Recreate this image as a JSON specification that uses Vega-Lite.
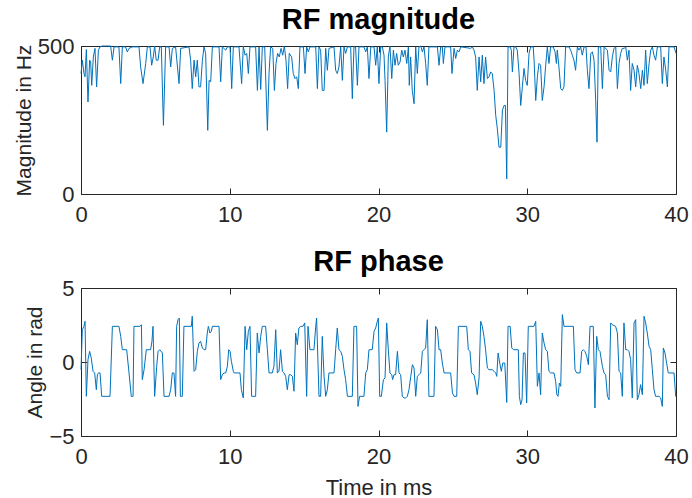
{
  "$schema": "https://vega.github.io/schema/vega-lite/v6.json",
  "padding": {"left": 12, "top": 5, "right": 0, "bottom": 0},
  "background": "white",
  "spacing": 21,
  "config": {
    "font": "Liberation Sans",
    "view": {"stroke": "#262626", "strokeWidth": 1},
    "axis": {"grid": false, "domain": false, "tickColor": "#262626", "tickSize": -6, "labelColor": "#262626", "labelFontSize": 22, "titleFontSize": 22, "titleColor": "#262626", "titleFontWeight": "normal", "labelFont": "Liberation Sans", "titleFont": "Liberation Sans", "labelFlush": false},
    "axisY": {"titleFontSize": 21},
    "title": {"fontSize": 29, "fontWeight": "bold", "color": "#000000", "font": "Liberation Sans"}
  },
  "datasets": {
    "mag": [
      {"t":0,"v":407},{"t":0.09,"v":452},{"t":0.2,"v":407},{"t":0.27,"v":396},{"t":0.36,"v":488},{"t":0.47,"v":311},{"t":0.58,"v":452},{"t":0.65,"v":446},{"t":0.72,"v":367},{"t":0.83,"v":463},{"t":0.94,"v":492},{"t":1.05,"v":362},{"t":1.17,"v":486},{"t":1.28,"v":497},{"t":1.43,"v":500},{"t":1.66,"v":500},{"t":1.99,"v":500},{"t":2.11,"v":452},{"t":2.22,"v":497},{"t":2.55,"v":497},{"t":2.67,"v":373},{"t":2.78,"v":497},{"t":3.0,"v":497},{"t":3.11,"v":480},{"t":3.23,"v":492},{"t":3.45,"v":497},{"t":3.9,"v":497},{"t":4.01,"v":429},{"t":4.17,"v":373},{"t":4.35,"v":441},{"t":4.46,"v":497},{"t":4.64,"v":497},{"t":4.75,"v":435},{"t":4.86,"v":463},{"t":4.95,"v":500},{"t":5.06,"v":452},{"t":5.18,"v":452},{"t":5.29,"v":497},{"t":5.4,"v":497},{"t":5.54,"v":232},{"t":5.69,"v":497},{"t":5.92,"v":497},{"t":6.03,"v":429},{"t":6.14,"v":492},{"t":6.36,"v":497},{"t":6.59,"v":373},{"t":6.7,"v":492},{"t":7.26,"v":497},{"t":7.37,"v":452},{"t":7.48,"v":356},{"t":7.6,"v":452},{"t":7.71,"v":396},{"t":7.82,"v":452},{"t":7.93,"v":362},{"t":8.04,"v":362},{"t":8.16,"v":452},{"t":8.27,"v":497},{"t":8.38,"v":475},{"t":8.52,"v":215},{"t":8.61,"v":384},{"t":8.72,"v":379},{"t":8.83,"v":497},{"t":9.28,"v":497},{"t":9.39,"v":379},{"t":9.5,"v":497},{"t":9.73,"v":486},{"t":9.84,"v":497},{"t":10.02,"v":497},{"t":10.13,"v":356},{"t":10.24,"v":497},{"t":10.35,"v":497},
      {"t":10.62,"v":497},{"t":10.8,"v":373},{"t":10.91,"v":500},{"t":11.03,"v":469},{"t":11.14,"v":475},{"t":11.25,"v":407},{"t":11.36,"v":497},{"t":11.74,"v":497},{"t":11.86,"v":350},{"t":11.97,"v":497},{"t":12.08,"v":353},{"t":12.19,"v":497},{"t":12.35,"v":497},{"t":12.53,"v":215},{"t":12.64,"v":407},{"t":12.75,"v":497},{"t":12.89,"v":492},{"t":13.0,"v":350},{"t":13.11,"v":441},{"t":13.22,"v":475},{"t":13.33,"v":463},{"t":13.45,"v":492},{"t":13.56,"v":469},{"t":13.67,"v":500},{"t":13.78,"v":452},{"t":13.89,"v":356},{"t":14.0,"v":475},{"t":14.16,"v":463},{"t":14.27,"v":407},{"t":14.39,"v":390},{"t":14.5,"v":396},{"t":14.61,"v":356},{"t":14.72,"v":497},{"t":14.95,"v":497},{"t":15.06,"v":407},{"t":15.17,"v":497},{"t":15.28,"v":480},{"t":15.39,"v":497},{"t":15.78,"v":497},{"t":15.89,"v":356},{"t":16.0,"v":497},{"t":16.11,"v":486},{"t":16.22,"v":350},{"t":16.34,"v":350},{"t":16.45,"v":492},{"t":16.56,"v":418},{"t":16.67,"v":492},{"t":17.01,"v":497},{"t":17.12,"v":418},{"t":17.23,"v":407},{"t":17.34,"v":429},{"t":17.46,"v":497},{"t":17.57,"v":384},{"t":17.68,"v":497},{"t":17.79,"v":475},{"t":17.91,"v":497},{"t":18.13,"v":497},{"t":18.24,"v":322},{"t":18.35,"v":497},{"t":18.46,"v":497},{"t":18.58,"v":367},{"t":18.69,"v":497},{"t":19.02,"v":497},{"t":19.14,"v":480},{"t":19.25,"v":497},{"t":19.36,"v":390},{"t":19.48,"v":497},{"t":19.7,"v":497},{"t":19.81,"v":435},{"t":19.92,"v":497},{"t":20.03,"v":373},{"t":20.15,"v":497},{"t":20.26,"v":497},{"t":20.37,"v":469},
      {"t":20.44,"v":384},{"t":20.55,"v":209},{"t":20.66,"v":463},{"t":20.77,"v":500},{"t":20.89,"v":390},{"t":21.0,"v":486},{"t":21.11,"v":435},{"t":21.22,"v":475},{"t":21.33,"v":435},{"t":21.45,"v":446},{"t":21.56,"v":486},{"t":21.67,"v":463},{"t":21.78,"v":486},{"t":21.9,"v":441},{"t":22.01,"v":497},{"t":22.07,"v":367},{"t":22.16,"v":463},{"t":22.27,"v":350},{"t":22.39,"v":305},{"t":22.5,"v":497},{"t":22.61,"v":407},{"t":22.72,"v":497},{"t":22.84,"v":500},{"t":22.95,"v":480},{"t":23.06,"v":497},{"t":23.17,"v":441},{"t":23.28,"v":367},{"t":23.39,"v":497},{"t":23.96,"v":497},{"t":24.07,"v":435},{"t":24.18,"v":497},{"t":24.29,"v":497},{"t":24.36,"v":441},{"t":24.47,"v":497},{"t":24.85,"v":497},{"t":24.94,"v":407},{"t":25.08,"v":492},{"t":25.19,"v":458},{"t":25.3,"v":486},{"t":25.41,"v":480},{"t":25.53,"v":497},{"t":26.2,"v":492},{"t":26.31,"v":497},{"t":26.42,"v":486},{"t":26.53,"v":463},{"t":26.64,"v":350},{"t":26.76,"v":463},{"t":26.87,"v":379},{"t":26.98,"v":469},{"t":27.09,"v":373},{"t":27.2,"v":463},{"t":27.32,"v":390},{"t":27.43,"v":396},{"t":27.54,"v":412},{"t":27.65,"v":407},{"t":27.77,"v":350},{"t":27.88,"v":266},{"t":27.99,"v":220},{"t":28.1,"v":158},{"t":28.22,"v":158},{"t":28.33,"v":283},{"t":28.44,"v":299},{"t":28.53,"v":299},{"t":28.62,"v":51},{"t":28.71,"v":497},{"t":28.85,"v":497},{"t":28.93,"v":486},{"t":29.0,"v":412},{"t":29.11,"v":497},{"t":29.22,"v":497},{"t":29.33,"v":486},{"t":29.45,"v":407},{"t":29.56,"v":299},{"t":29.67,"v":362},{"t":29.78,"v":424},{"t":29.89,"v":384},{"t":30.0,"v":367},{"t":30.12,"v":475},{"t":30.23,"v":497},{"t":30.4,"v":497},{"t":30.46,"v":452},
      {"t":30.57,"v":316},{"t":30.68,"v":396},{"t":30.79,"v":441},{"t":30.9,"v":435},{"t":31.01,"v":316},{"t":31.13,"v":362},{"t":31.24,"v":435},{"t":31.35,"v":497},{"t":31.46,"v":441},{"t":31.57,"v":497},{"t":31.75,"v":497},{"t":31.87,"v":480},{"t":31.96,"v":441},{"t":32.02,"v":486},{"t":32.13,"v":429},{"t":32.25,"v":356},{"t":32.36,"v":350},{"t":32.47,"v":362},{"t":32.58,"v":497},{"t":32.81,"v":497},{"t":32.92,"v":486},{"t":33.03,"v":469},{"t":33.14,"v":452},{"t":33.25,"v":418},{"t":33.37,"v":497},{"t":33.48,"v":486},{"t":33.59,"v":497},{"t":33.7,"v":469},{"t":33.82,"v":497},{"t":33.95,"v":497},{"t":34.04,"v":418},{"t":34.15,"v":356},{"t":34.27,"v":475},{"t":34.38,"v":480},{"t":34.49,"v":452},{"t":34.6,"v":316},{"t":34.69,"v":175},{"t":34.78,"v":497},{"t":34.94,"v":497},{"t":35.05,"v":356},{"t":35.17,"v":497},{"t":35.39,"v":486},{"t":35.5,"v":418},{"t":35.61,"v":412},{"t":35.72,"v":463},{"t":35.83,"v":492},{"t":35.95,"v":497},{"t":36.06,"v":356},{"t":36.17,"v":441},{"t":36.28,"v":475},{"t":36.39,"v":492},{"t":36.51,"v":492},{"t":36.62,"v":497},{"t":36.73,"v":452},{"t":36.84,"v":486},{"t":36.95,"v":350},{"t":37.06,"v":441},{"t":37.18,"v":418},{"t":37.29,"v":362},{"t":37.4,"v":435},{"t":37.51,"v":407},{"t":37.63,"v":356},{"t":37.74,"v":418},{"t":37.85,"v":367},{"t":37.96,"v":486},{"t":38.07,"v":373},{"t":38.19,"v":441},{"t":38.3,"v":486},{"t":38.41,"v":497},{"t":38.52,"v":469},{"t":38.63,"v":452},{"t":38.75,"v":497},{"t":38.97,"v":497},{"t":39.08,"v":373},{"t":39.19,"v":463},{"t":39.31,"v":418},{"t":39.42,"v":362},{"t":39.53,"v":497},{"t":39.87,"v":497},{"t":40.0,"v":475}
    ],
    "phase": [
      {"t":0,"v":-0.52},{"t":0.09,"v":2.18},{"t":0.2,"v":2.41},{"t":0.27,"v":2.75},{"t":0.36,"v":-2.32},{"t":0.47,"v":0.16},{"t":0.58,"v":0.72},{"t":0.69,"v":0.27},{"t":0.81,"v":-0.63},{"t":0.92,"v":-0.74},{"t":1.03,"v":-1.87},{"t":1.1,"v":-0.86},{"t":1.17,"v":-0.74},{"t":1.28,"v":-0.74},{"t":1.39,"v":-2.32},{"t":1.95,"v":-2.32},{"t":2.11,"v":2.41},{"t":2.55,"v":2.41},{"t":2.67,"v":1.73},{"t":2.78,"v":0.83},{"t":3.07,"v":0.83},{"t":3.23,"v":-0.74},{"t":3.38,"v":-2.32},{"t":3.5,"v":-2.32},{"t":3.56,"v":2.41},{"t":3.97,"v":2.41},{"t":4.06,"v":2.52},{"t":4.12,"v":-1.19},{"t":4.24,"v":-0.52},{"t":4.39,"v":0.83},{"t":4.68,"v":0.83},{"t":4.77,"v":1.4},{"t":4.84,"v":2.41},{"t":4.95,"v":-2.32},{"t":5.09,"v":-0.29},{"t":5.18,"v":0.72},{"t":5.29,"v":0.83},{"t":5.47,"v":0.61},{"t":5.58,"v":-2.32},{"t":5.92,"v":-2.32},{"t":6.03,"v":-1.87},{"t":6.14,"v":-0.74},{"t":6.25,"v":-0.74},{"t":6.36,"v":-2.32},{"t":6.43,"v":2.41},{"t":6.52,"v":2.86},{"t":6.61,"v":2.97},{"t":6.68,"v":-2.32},{"t":6.81,"v":-2.32},{"t":6.92,"v":2.41},{"t":7.42,"v":2.41},{"t":7.48,"v":3.09},{"t":7.6,"v":-0.63},{"t":7.71,"v":-0.52},{"t":7.82,"v":0.72},{"t":7.93,"v":1.28},{"t":8.04,"v":1.4},{"t":8.16,"v":0.95},{"t":8.27,"v":0.83},{"t":8.38,"v":0.83},{"t":8.49,"v":1.96},{"t":8.56,"v":2.41},{"t":8.67,"v":1.96},{"t":8.76,"v":2.07},{"t":8.83,"v":2.41},{"t":9.28,"v":2.41},{"t":9.39,"v":-1.19},{"t":9.5,"v":-0.86},{"t":9.61,"v":-0.74},{"t":9.73,"v":-0.74},{"t":9.84,"v":-0.29},{"t":9.93,"v":0.83},{"t":10.02,"v":0.72},{"t":10.11,"v":0.05},{"t":10.24,"v":-0.63},
      {"t":10.29,"v":-0.74},{"t":10.69,"v":-0.74},{"t":10.78,"v":-1.87},{"t":10.91,"v":-2.43},{"t":11.03,"v":2.41},{"t":11.14,"v":0.83},{"t":11.25,"v":2.07},{"t":11.36,"v":2.41},{"t":11.47,"v":-2.32},{"t":11.74,"v":-2.32},{"t":11.85,"v":1.96},{"t":11.97,"v":0.61},{"t":12.08,"v":1.73},{"t":12.19,"v":2.41},{"t":12.41,"v":2.41},{"t":12.53,"v":0.83},{"t":12.64,"v":-0.74},{"t":12.86,"v":-0.74},{"t":12.97,"v":-0.29},{"t":13.09,"v":2.18},{"t":13.2,"v":-0.74},{"t":13.31,"v":-0.63},{"t":13.42,"v":0.83},{"t":13.54,"v":-0.63},{"t":13.65,"v":-0.74},{"t":13.76,"v":-0.97},{"t":13.87,"v":-1.87},{"t":13.99,"v":-0.86},{"t":14.1,"v":-0.86},{"t":14.21,"v":-0.97},{"t":14.32,"v":-1.98},{"t":14.43,"v":1.96},{"t":14.54,"v":1.17},{"t":14.65,"v":2.3},{"t":14.77,"v":2.41},{"t":14.92,"v":2.41},{"t":15.04,"v":2.64},{"t":15.17,"v":-2.32},{"t":15.26,"v":2.41},{"t":15.39,"v":0.83},{"t":15.66,"v":0.83},{"t":15.78,"v":2.41},{"t":15.84,"v":2.97},{"t":16.0,"v":-2.32},{"t":16.11,"v":-2.32},{"t":16.22,"v":1.73},{"t":16.34,"v":-0.97},{"t":16.45,"v":-2.32},{"t":16.56,"v":-1.87},{"t":16.67,"v":-0.74},{"t":17.01,"v":-0.74},{"t":17.12,"v":0.83},{"t":17.23,"v":2.3},{"t":17.34,"v":0.83},{"t":17.46,"v":0.72},{"t":17.57,"v":0.38},{"t":17.68,"v":-0.52},{"t":17.79,"v":-1.19},{"t":17.91,"v":-2.32},{"t":18.24,"v":-2.32},{"t":18.35,"v":2.41},{"t":18.53,"v":2.41},{"t":18.62,"v":-3.0},{"t":18.73,"v":-2.32},{"t":19.02,"v":-2.32},{"t":19.14,"v":-0.74},{"t":19.25,"v":-0.52},{"t":19.36,"v":0.83},{"t":19.58,"v":0.83},{"t":19.7,"v":2.07},{"t":19.81,"v":2.3},{"t":19.92,"v":2.75},{"t":19.99,"v":2.97},{"t":20.08,"v":-2.32},{"t":20.19,"v":-2.32},{"t":20.33,"v":-1.19},
      {"t":20.44,"v":-1.08},{"t":20.55,"v":2.64},{"t":20.66,"v":0.83},{"t":20.77,"v":-0.74},{"t":20.89,"v":-0.86},{"t":20.95,"v":-1.19},{"t":21.04,"v":-0.86},{"t":21.15,"v":-0.86},{"t":21.27,"v":0.72},{"t":21.38,"v":-0.74},{"t":21.49,"v":-0.86},{"t":21.6,"v":-2.32},{"t":21.72,"v":-2.43},{"t":21.83,"v":-2.43},{"t":21.94,"v":-2.32},{"t":22.05,"v":-1.87},{"t":22.17,"v":-0.97},{"t":22.28,"v":-0.18},{"t":22.39,"v":-0.41},{"t":22.5,"v":-2.32},{"t":22.61,"v":-0.97},{"t":22.72,"v":-0.86},{"t":22.84,"v":-0.74},{"t":22.95,"v":0.72},{"t":23.06,"v":0.83},{"t":23.17,"v":0.95},{"t":23.28,"v":2.86},{"t":23.39,"v":-2.32},{"t":23.73,"v":-2.32},{"t":23.84,"v":2.41},{"t":23.96,"v":2.18},{"t":24.07,"v":0.83},{"t":24.18,"v":0.83},{"t":24.29,"v":-0.07},{"t":24.41,"v":-0.74},{"t":24.85,"v":-0.74},{"t":24.97,"v":-2.09},{"t":25.08,"v":-2.32},{"t":25.26,"v":-2.32},{"t":25.37,"v":2.41},{"t":25.93,"v":2.41},{"t":26.04,"v":0.83},{"t":26.15,"v":0.72},{"t":26.26,"v":-0.74},{"t":26.42,"v":-0.86},{"t":26.53,"v":-1.42},{"t":26.64,"v":-2.21},{"t":26.76,"v":-1.08},{"t":26.87,"v":2.75},{"t":26.98,"v":2.41},{"t":27.09,"v":1.73},{"t":27.2,"v":0.83},{"t":27.32,"v":-0.41},{"t":27.43,"v":-0.52},{"t":27.65,"v":-0.52},{"t":27.77,"v":-0.63},{"t":27.88,"v":-0.74},{"t":27.95,"v":-0.97},{"t":28.04,"v":0.61},{"t":28.15,"v":-0.07},{"t":28.26,"v":-0.63},{"t":28.35,"v":-0.07},{"t":28.49,"v":-0.07},{"t":28.62,"v":-2.73},{"t":28.71,"v":2.41},{"t":28.85,"v":2.41},{"t":28.96,"v":0.95},{"t":29.07,"v":0.83},{"t":29.4,"v":0.83},{"t":29.47,"v":-2.32},{"t":29.56,"v":-2.88},{"t":29.65,"v":-2.55},{"t":29.74,"v":0.61},{"t":29.85,"v":0.61},{"t":29.96,"v":-2.77},{"t":30.07,"v":2.41},{"t":30.45,"v":2.41},
      {"t":30.57,"v":2.75},{"t":30.68,"v":-1.64},{"t":30.79,"v":-0.74},{"t":30.9,"v":-2.21},{"t":31.01,"v":1.96},{"t":31.13,"v":1.28},{"t":31.24,"v":0.83},{"t":31.35,"v":0.72},{"t":31.46,"v":-0.63},{"t":31.57,"v":-0.74},{"t":31.8,"v":-0.74},{"t":31.91,"v":-1.31},{"t":31.99,"v":-2.21},{"t":32.07,"v":-2.32},{"t":32.16,"v":-1.42},{"t":32.25,"v":-1.64},{"t":32.36,"v":3.2},{"t":32.47,"v":2.41},{"t":33.1,"v":2.41},{"t":33.21,"v":-0.52},{"t":33.32,"v":-0.74},{"t":33.55,"v":-0.74},{"t":33.66,"v":0.72},{"t":33.77,"v":0.83},{"t":33.88,"v":0.72},{"t":34.0,"v":0.38},{"t":34.11,"v":-0.18},{"t":34.22,"v":2.41},{"t":34.44,"v":2.41},{"t":34.55,"v":-3.11},{"t":34.67,"v":1.73},{"t":34.78,"v":0.83},{"t":34.89,"v":0.72},{"t":35.05,"v":-0.29},{"t":35.16,"v":-0.74},{"t":35.27,"v":-0.86},{"t":35.39,"v":-2.32},{"t":35.5,"v":-2.55},{"t":35.61,"v":2.64},{"t":35.72,"v":2.52},{"t":35.94,"v":2.41},{"t":36.06,"v":1.96},{"t":36.17,"v":-0.63},{"t":36.28,"v":-0.74},{"t":36.39,"v":-2.32},{"t":36.5,"v":2.64},{"t":36.62,"v":0.83},{"t":36.73,"v":0.83},{"t":36.84,"v":0.72},{"t":36.95,"v":0.16},{"t":37.06,"v":-2.43},{"t":37.18,"v":2.64},{"t":37.29,"v":2.86},{"t":37.4,"v":-2.55},{"t":37.51,"v":-2.21},{"t":37.62,"v":-1.53},{"t":37.74,"v":-2.21},{"t":37.85,"v":3.09},{"t":37.96,"v":2.64},{"t":38.07,"v":1.96},{"t":38.19,"v":1.06},{"t":38.3,"v":0.83},{"t":38.41,"v":-0.52},{"t":38.52,"v":-1.87},{"t":38.63,"v":-2.32},{"t":38.86,"v":-2.32},{"t":38.97,"v":-2.43},{"t":39.08,"v":-3.0},{"t":39.15,"v":0.95},{"t":39.26,"v":0.61},{"t":39.37,"v":-0.07},{"t":39.48,"v":-0.74},{"t":39.87,"v":-0.74},{"t":39.98,"v":-2.32},{"t":40.0,"v":-2.32}
    ]
  },
  "vconcat": [
    {
      "width": 595,
      "height": 148,
      "title": {"text": "RF magnitude", "offset": 0},
      "data": {"name": "mag"},
      "layer": [
        {
          "mark": {"type": "line", "color": "#0072BD", "strokeWidth": 1},
          "encoding": {
            "x": {"field": "t", "type": "quantitative", "scale": {"domain": [0, 40], "nice": false}, "axis": {"values": [0, 10, 20, 30, 40], "title": null, "labelPadding": 16}},
            "y": {"field": "v", "type": "quantitative", "scale": {"domain": [0, 500], "nice": false}, "axis": {"values": [0, 500], "title": "Magnitude in Hz", "labelPadding": 13, "titlePadding": 3}}
          }
        },
        {
          "mark": {"type": "line", "opacity": 0},
          "encoding": {
            "x": {"field": "t", "type": "quantitative", "axis": {"orient": "top", "values": [0, 10, 20, 30, 40], "labels": false, "title": null}},
            "y": {"field": "v", "type": "quantitative", "axis": {"orient": "right", "values": [0, 500], "labels": false, "title": null}}
          }
        }
      ],
      "resolve": {"axis": {"x": "independent", "y": "independent"}}
    },
    {
      "width": 595,
      "height": 148,
      "title": {"text": "RF phase", "offset": 0},
      "data": {"name": "phase"},
      "layer": [
        {
          "mark": {"type": "line", "color": "#0072BD", "strokeWidth": 1},
          "encoding": {
            "x": {"field": "t", "type": "quantitative", "scale": {"domain": [0, 40], "nice": false}, "axis": {"values": [0, 10, 20, 30, 40], "title": "Time in ms", "labelPadding": 16, "titlePadding": 10}},
            "y": {"field": "v", "type": "quantitative", "scale": {"domain": [-5, 5], "nice": false}, "axis": {"values": [-5, 0, 5], "title": "Angle in rad", "labelPadding": 13, "titlePadding": 3}}
          }
        },
        {
          "mark": {"type": "line", "opacity": 0},
          "encoding": {
            "x": {"field": "t", "type": "quantitative", "axis": {"orient": "top", "values": [0, 10, 20, 30, 40], "labels": false, "title": null}},
            "y": {"field": "v", "type": "quantitative", "axis": {"orient": "right", "values": [-5, 0, 5], "labels": false, "title": null}}
          }
        }
      ],
      "resolve": {"axis": {"x": "independent", "y": "independent"}}
    }
  ]
}
